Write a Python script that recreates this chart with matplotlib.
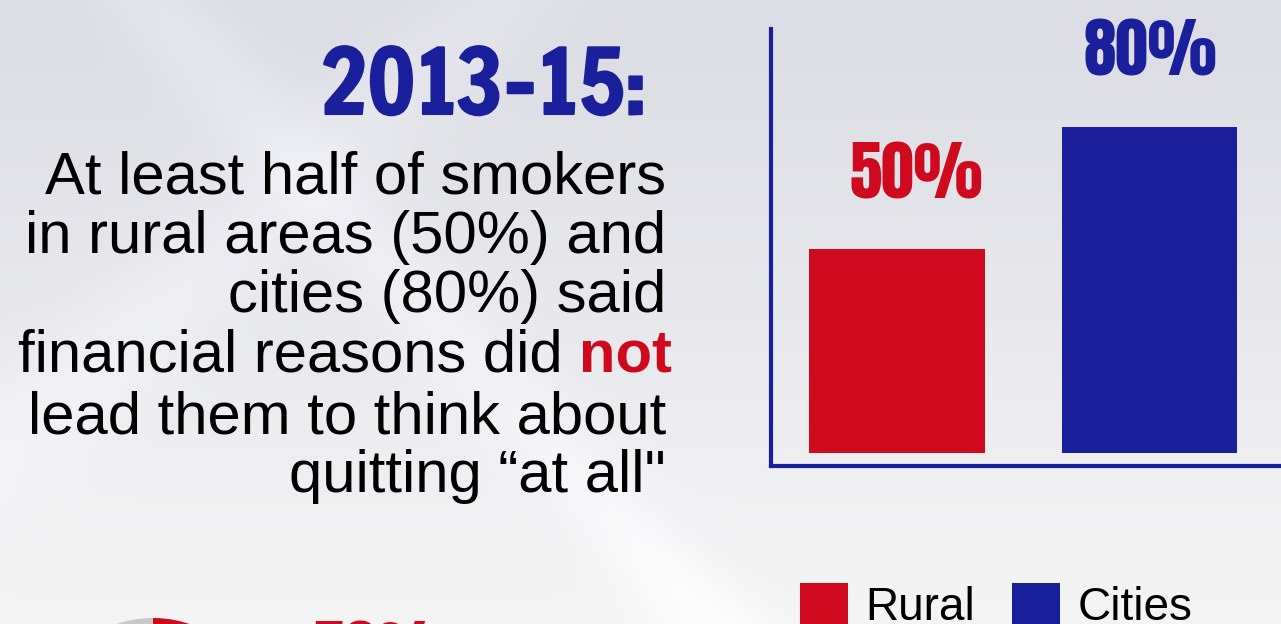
import numpy as np
import matplotlib
matplotlib.use("Agg")
import matplotlib.pyplot as plt
from matplotlib import patheffects as pe
from matplotlib.patches import Patch
from matplotlib.text import Annotation

# ---------------- data ----------------
categories = ["Rural", "Cities"]
values = [50, 80]
value_labels = ["50%", "80%"]
title_text = "2013-15:"
body_lines = [
    "At least half of smokers",
    "in rural areas (50%) and",
    "cities (80%) said",
    "financial reasons did ",
    "lead them to think about",
    "quitting \u201cat all\"",
]
highlight_word = "not"
pie_values = [50, 50]          # partially visible pie at the bottom
pie_label = "50%"

# ---------------- style ----------------
RED = "#cf0a1e"
BLUE = "#1a1f9b"
GRAY = "#c9c9c9"
W, H, DPI = 1281, 624, 100
HEAVY = ["Anton", "Oswald", "Liberation Sans", "DejaVu Sans"]
TITLE = ["Francois One", "Anton", "Liberation Sans", "DejaVu Sans"]
REG = ["Liberation Sans", "DejaVu Sans"]

fig = plt.figure(figsize=(W / DPI, H / DPI), dpi=DPI)

def fx(px):
    return px / W

def fy(py):
    return 1 - py / H

# background gradient
bg = fig.add_axes([0, 0, 1, 1], zorder=-10)
yy, xx = np.mgrid[0:H, 0:W]
t = yy / H
top = np.array([219, 220, 228]) / 255
bot = np.array([245, 245, 245]) / 255
img = top[None, None, :] * (1 - t[..., None]) + bot[None, None, :] * t[..., None]
d1 = np.abs((xx - 150) - 0.9 * yy) / 60
d2 = np.abs((xx - 500) + 1.1 * yy) / 80
glow = 0.03 * np.exp(-d1 ** 2) + 0.025 * np.exp(-d2 ** 2)
img = np.clip(img + glow[..., None], 0, 1)
bg.imshow(img, aspect="auto", extent=[0, 1, 0, 1], origin="upper")
bg.axis("off")

# ---------------- bar chart ----------------
ax = fig.add_axes([fx(771), fy(466), fx(1281) - fx(771), fy(29) - fy(466)])
ax.patch.set_alpha(0)
x = np.arange(len(categories))
bars = ax.bar(x, values, width=0.692, color=[RED, BLUE])
ax.set_xlim(-0.498, 1.518)
ax.set_ylim(-3.2, 104)
for s in ["top", "right"]:
    ax.spines[s].set_visible(False)
for s in ["left", "bottom"]:
    ax.spines[s].set_color(BLUE)
    ax.spines[s].set_linewidth(3.0)
ax.set_xticks([])
ax.set_yticks([])

label_dx = [19, 0]
for xi, v, lab, c, dx in zip(x, values, value_labels, [RED, BLUE], label_dx):
    ax.annotate(lab, xy=(xi, v), xytext=(dx * 0.72, 51 * 0.72), textcoords="offset points",
                ha="center", va="baseline", fontsize=47, family=HEAVY, color=c)

handles = [Patch(facecolor=RED, edgecolor="none"), Patch(facecolor=BLUE, edgecolor="none")]
leg = fig.legend(handles, categories, loc="upper left",
                 bbox_to_anchor=(fx(800), fy(583)), ncol=2, frameon=False,
                 borderpad=0, borderaxespad=0, handlelength=1.04, handleheight=1.04,
                 handletextpad=0.39, columnspacing=0.8,
                 prop={"family": REG, "size": 33})

# ---------------- text block ----------------
fig.text(fx(647), fy(114), title_text, ha="right", va="baseline", fontsize=64,
         family=TITLE, color=BLUE,
         path_effects=[pe.withStroke(linewidth=1.5, foreground=BLUE)])

baselines = [193, 253, 312, 372, 433, 492]
right_x = 666
for i, (line, by) in enumerate(zip(body_lines, baselines)):
    if i == 3:
        nt = fig.text(fx(672), fy(by), highlight_word, ha="right", va="baseline",
                      fontsize=43, fontweight="bold", family=REG, color=RED)
        fig.add_artist(Annotation(
            line, xy=(0, 0), xycoords=nt, ha="right", va="bottom",
            fontsize=43, family=REG, color="black", annotation_clip=False))
    else:
        fig.text(fx(right_x), fy(by), line, ha="right", va="baseline", fontsize=43,
                 family=REG, color="black")

# ---------------- partial pie at the bottom ----------------
r = 115
cx, cy = 153, 618 + r
pax = fig.add_axes([fx(cx - r), fy(cy + r), fx(2 * r), fy(cy - r) - fy(cy + r)])
pax.pie(pie_values, colors=[RED, GRAY], startangle=90, counterclock=False, radius=1)
pax.set_xlim(-1, 1)
pax.set_ylim(-1, 1)
pax.axis("off")
fig.text(fx(312), fy(619 + 59), pie_label, ha="left", va="baseline", fontsize=47,
         family=HEAVY, color=RED)

fig.savefig("out.png", dpi=DPI)
